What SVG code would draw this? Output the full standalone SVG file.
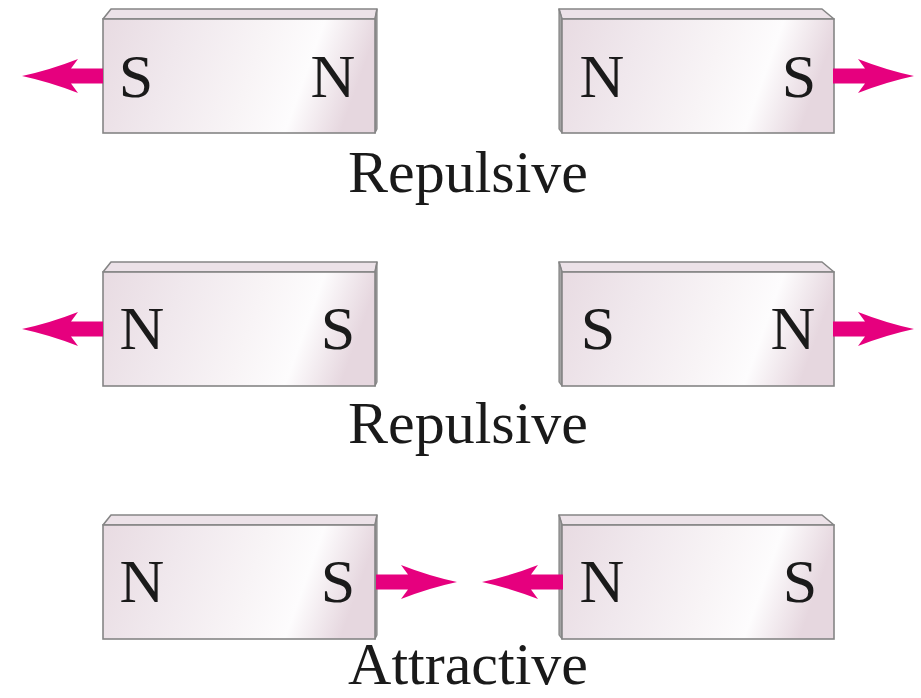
<svg xmlns="http://www.w3.org/2000/svg" width="921" height="698" viewBox="0 0 921 698">
  <defs>
    <linearGradient id="face" x1="0" y1="0" x2="1" y2="0.15">
      <stop offset="0" stop-color="#e8dbe2"/>
      <stop offset="0.3" stop-color="#f0e8ed"/>
      <stop offset="0.6" stop-color="#f8f4f6"/>
      <stop offset="0.8" stop-color="#fdfcfd"/>
      <stop offset="1" stop-color="#e6d7df"/>
    </linearGradient>
    <path id="arrowL" d="M0,0 Q28,-6 56,-17 L49,-7.5 L81,-7.5 L81,7.5 L49,7.5 L56,17 Q28,6 0,0Z"/>
  </defs>
  <style>
    .front { fill: url(#face); stroke: #858585; stroke-width: 1.6; }
    .top { fill: #ece2e8; stroke: #858585; stroke-width: 1.6; stroke-linejoin: round; }
    .side { fill: #a3a3a3; stroke: #858585; stroke-width: 1.2; stroke-linejoin: round; }
    .pole { font-family: "Liberation Serif", "Times New Roman", serif; font-size: 62px; fill: #1a1a1a; text-anchor: middle; }
    .label { font-family: "Liberation Serif", "Times New Roman", serif; font-size: 60px; fill: #1a1a1a; text-anchor: middle; }
    .arrow { fill: #e6007e; }
  </style>
  <rect width="921" height="698" fill="#ffffff"/>

  <!-- Row 1 -->
  <g id="magnet-1-left">
    <polygon class="top" points="103,19 111,9 377,9 375,19"/>
    <polygon class="side" points="375,19 377,9 377,129 375,133"/>
    <rect class="front" x="103" y="19" width="272" height="114"/>
    <text class="pole" x="136" y="97">S</text>
    <text class="pole" x="333" y="97">N</text>
  </g>
  <g id="magnet-1-right">
    <polygon class="top" points="562,19 559,9 822,9 834,19"/>
    <polygon class="side" points="562,19 559,9 559,129 562,133"/>
    <rect class="front" x="562" y="19" width="272" height="114"/>
    <text class="pole" x="602" y="97">N</text>
    <text class="pole" x="799" y="97">S</text>
  </g>
  <g id="label-1">
    <text class="label" x="468" y="192">Repulsive</text>
  </g>

  <!-- Row 2 -->
  <g id="magnet-2-left">
    <polygon class="top" points="103,272 111,262 377,262 375,272"/>
    <polygon class="side" points="375,272 377,262 377,382 375,386"/>
    <rect class="front" x="103" y="272" width="272" height="114"/>
    <text class="pole" x="142" y="349">N</text>
    <text class="pole" x="338" y="349">S</text>
  </g>
  <g id="magnet-2-right">
    <polygon class="top" points="562,272 559,262 822,262 834,272"/>
    <polygon class="side" points="562,272 559,262 559,382 562,386"/>
    <rect class="front" x="562" y="272" width="272" height="114"/>
    <text class="pole" x="598" y="349">S</text>
    <text class="pole" x="793" y="349">N</text>
  </g>
  <g id="label-2">
    <text class="label" x="468" y="443">Repulsive</text>
  </g>

  <!-- Row 3 -->
  <g id="magnet-3-left">
    <polygon class="top" points="103,525 111,515 377,515 375,525"/>
    <polygon class="side" points="375,525 377,515 377,635 375,639"/>
    <rect class="front" x="103" y="525" width="272" height="114"/>
    <text class="pole" x="142" y="602">N</text>
    <text class="pole" x="338" y="602">S</text>
  </g>
  <g id="magnet-3-right">
    <polygon class="top" points="562,525 559,515 822,515 834,525"/>
    <polygon class="side" points="562,525 559,515 559,635 562,639"/>
    <rect class="front" x="562" y="525" width="272" height="114"/>
    <text class="pole" x="602" y="602">N</text>
    <text class="pole" x="800" y="602">S</text>
  </g>
  <g id="label-3">
    <text class="label" x="468" y="684">Attractive</text>
  </g>

  <!-- Connectors (force arrows) -->
  <g id="connectors" class="arrow">
    <use href="#arrowL" transform="translate(22,76)"/>
    <use href="#arrowL" transform="translate(914,76) scale(-1,1)"/>
    <use href="#arrowL" transform="translate(22,329)"/>
    <use href="#arrowL" transform="translate(914,329) scale(-1,1)"/>
    <use href="#arrowL" transform="translate(457,582) scale(-1,1)"/>
    <use href="#arrowL" transform="translate(482,582)"/>
  </g>
</svg>
